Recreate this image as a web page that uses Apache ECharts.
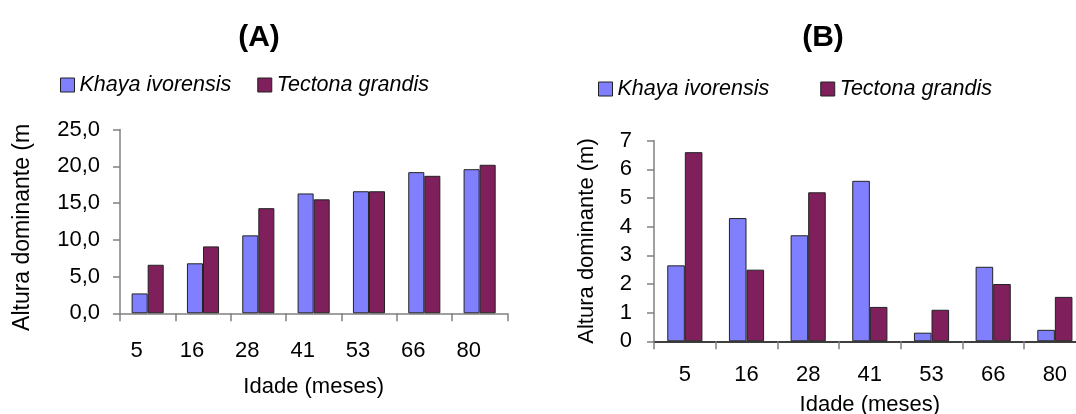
<!DOCTYPE html>
<html>
<head>
<meta charset="utf-8">
<script src="https://cdn.jsdelivr.net/npm/echarts@6/dist/echarts.min.js"></script>
<style>
  html, body { margin: 0; padding: 0; background: #fff; }
  #chart { width: 1076px; height: 414px; }
</style>
</head>
<body>
<div id="chart"></div>
<script>
// Ages (months) and dominant height per species
const categories = ['5', '16', '28', '41', '53', '66', '80'];
const seriesNames = ['Khaya ivorensis', 'Tectona grandis'];

// (A) dominant height (m)
const khayaA = [2.7, 6.8, 10.6, 16.3, 16.6, 19.2, 19.6];
const tectonaA = [6.6, 9.1, 14.3, 15.5, 16.6, 18.7, 20.2];
const yTicksA = ['0,0', '5,0', '10,0', '15,0', '20,0', '25,0'];

// (B) dominant height (m)
const khayaB = [2.65, 4.3, 3.7, 5.6, 0.3, 2.6, 0.4];
const tectonaB = [6.6, 2.5, 5.2, 1.2, 1.1, 2.0, 1.55];
const yTicksB = ['0', '1', '2', '3', '4', '5', '6', '7'];

const colors = ['#8080ff', '#7f1f5c'];
const FONT = 'Liberation Sans, Arial, sans-serif';

const chart = echarts.init(document.getElementById('chart'), null, { renderer: 'canvas' });

function barSeries(name, data, axisIdx, color, gap) {
  return {
    name: name,
    type: 'bar',
    xAxisIndex: axisIdx,
    yAxisIndex: axisIdx,
    data: data,
    barGap: '0%',
    barCategoryGap: gap,
    itemStyle: { color: color, borderColor: '#222', borderWidth: 1 },
    emphasis: { disabled: true },
    animation: false
  };
}

function xAxisDef(gridIndex, labelMargin, nameGap, lineColor, labelPad) {
  return {
    type: 'category',
    gridIndex: gridIndex,
    data: categories,
    name: 'Idade (meses)',
    nameLocation: 'middle',
    nameGap: nameGap,
    nameTextStyle: { fontFamily: FONT, fontSize: 22, color: '#000' },
    axisLine: { show: true, lineStyle: { color: lineColor, width: 1.5 } },
    axisTick: { show: true, alignWithLabel: false, length: 8, lineStyle: { color: '#808080', width: 1.5 } },
    axisLabel: { fontFamily: FONT, fontSize: 22, color: '#000', margin: labelMargin, padding: labelPad },
    splitLine: { show: false }
  };
}

function yAxisDef(gridIndex, max, interval, ticks, name, nameGap, nameSize, namePad, labelMargin) {
  return {
    type: 'value',
    gridIndex: gridIndex,
    min: 0,
    max: max,
    interval: interval,
    name: name,
    nameLocation: 'middle',
    nameRotate: 90,
    nameGap: nameGap,
    nameTextStyle: { fontFamily: FONT, fontSize: nameSize, color: '#000', padding: namePad },
    axisLine: { show: true, lineStyle: { color: '#808080', width: 1.5 } },
    axisTick: { show: true, length: 7, lineStyle: { color: '#808080', width: 1.5 } },
    axisLabel: {
      fontFamily: FONT, fontSize: 22, color: '#000', margin: labelMargin,
      formatter: function (v) { return ticks[Math.round(v / interval)]; }
    },
    splitLine: { show: false }
  };
}

const legendText = { fontFamily: FONT, fontSize: 21.5, fontStyle: 'italic', color: '#000' };

chart.setOption({
  backgroundColor: '#fff',
  animation: false,
  title: [
    { text: '(A)', left: 254, top: 33, textAlign: 'center', textVerticalAlign: 'middle',
      textStyle: { fontFamily: FONT, fontSize: 30, fontWeight: 'bold', color: '#000' } },
    { text: '(B)', left: 818, top: 33, textAlign: 'center', textVerticalAlign: 'middle',
      textStyle: { fontFamily: FONT, fontSize: 30, fontWeight: 'bold', color: '#000' } }
  ],
  legend: [
    { left: 55, top: 69, itemWidth: 14, itemHeight: 14, itemGap: 26, icon: 'rect',
      textStyle: legendText, selectedMode: false,
      data: seriesNames.map((n, i) => ({ name: n, itemStyle: { color: colors[i], borderColor: '#222', borderWidth: 1 } })) },
    { left: 593, top: 73, itemWidth: 14, itemHeight: 14, itemGap: 45, icon: 'rect',
      textStyle: legendText, selectedMode: false,
      data: seriesNames.map((n, i) => ({ name: n + ' ', itemStyle: { color: colors[i], borderColor: '#222', borderWidth: 1 } })) }
  ],
  grid: [
    { left: 120, top: 129.5, width: 387.3, height: 183.8, outerBoundsMode: 'none', containLabel: false },
    { left: 654, top: 140.7, width: 431.7, height: 200.6, outerBoundsMode: 'none', containLabel: false }
  ],
  xAxis: [
    xAxisDef(0, 27, 63, '#808080', [0, 22, 0, 0]),
    xAxisDef(1, 23, 53, '#000', 0)
  ],
  yAxis: [
    yAxisDef(0, 25, 5, yTicksA, 'Altura dominante (m', 86, 23, [0, 12, 0, 0], 20),
    yAxisDef(1, 7, 1, yTicksB, 'Altura dominante (m)', 56, 22, 0, 22)
  ],
  series: [
    barSeries(seriesNames[0], khayaA, 0, colors[0], '42%'),
    barSeries(seriesNames[1], tectonaA, 0, colors[1], '42%'),
    barSeries(seriesNames[0] + ' ', khayaB, 1, colors[0], '43%'),
    barSeries(seriesNames[1] + ' ', tectonaB, 1, colors[1], '43%')
  ]
});
</script>
</body>
</html>
